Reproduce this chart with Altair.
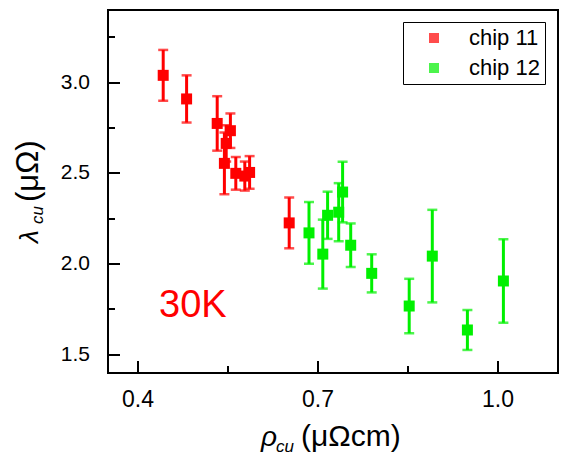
import altair as alt
import pandas as pd

# chip 11 (red)
chip11_x = [0.442, 0.481, 0.532, 0.554, 0.547, 0.544, 0.563, 0.578, 0.586, 0.652]
chip11_y = [3.04, 2.91, 2.775, 2.735, 2.665, 2.555, 2.50, 2.485, 2.505, 2.227]
chip11_err = [0.14, 0.13, 0.15, 0.095, 0.10, 0.17, 0.09, 0.08, 0.09, 0.14]

# chip 12 (green)
chip12_x = [0.685, 0.708, 0.716, 0.7345, 0.741, 0.7545, 0.7895, 0.852, 0.8905, 0.949, 1.009]
chip12_y = [2.172, 2.055, 2.269, 2.286, 2.397, 2.104, 1.949, 1.769, 2.044, 1.637, 1.907]
chip12_err = [0.17, 0.19, 0.13, 0.16, 0.167, 0.12, 0.105, 0.15, 0.255, 0.11, 0.23]

series_names = ["chip 11", "chip 12"]
series_colors = ["#ff0000", "#00f000"]

x_major = [0.4, 0.7, 1.0]
x_minor = [0.55, 0.85]
y_major = [1.5, 2.0, 2.5, 3.0]
y_minor = [1.75, 2.25, 2.75, 3.25]

rows = []
for name, xs_, ys_, es_ in [("chip 11", chip11_x, chip11_y, chip11_err),
                            ("chip 12", chip12_x, chip12_y, chip12_err)]:
    for x, y, e in zip(xs_, ys_, es_):
        rows.append({"series": name, "x": x, "y": y, "lo": y - e, "hi": y + e})
df = pd.DataFrame(rows)

FONT = "Liberation Sans"
W, H = 450, 363
xs = alt.Scale(domain=[0.35, 1.1], nice=False, zero=False)
ys = alt.Scale(domain=[1.4, 3.4], nice=False, zero=False)
cs = alt.Scale(domain=series_names, range=series_colors)

def xaxis(values, size, labels):
    return alt.Axis(values=values, format=".1f", tickSize=size, offset=-size, labels=labels,
                    labelPadding=16, domain=False, grid=False, title=None, orient="bottom",
                    labelFontSize=23, labelFont=FONT, labelColor="black",
                    tickWidth=2, tickColor="black", translate=0)

def yaxis(values, size, labels):
    return alt.Axis(values=values, format=".1f", tickSize=size, offset=-size, labels=labels,
                    labelPadding=18, domain=False, grid=False, title=None, orient="left",
                    labelFontSize=21, labelFont=FONT, labelColor="black",
                    tickWidth=2, tickColor="black", translate=0)

base = alt.Chart(df)

frame = alt.Chart(pd.DataFrame({"f": [0]})).mark_rect(
    fillOpacity=0, stroke="black", strokeWidth=2
).encode(x=alt.value(0), x2=alt.value(W), y=alt.value(0), y2=alt.value(H))

minor_axes = base.mark_point(opacity=0).encode(
    x=alt.X("x:Q", scale=xs, axis=xaxis(x_minor, 7, False)),
    y=alt.Y("y:Q", scale=ys, axis=yaxis(y_minor, 7, False)),
)

color_enc = alt.Color("series:N", scale=cs)

bars = base.mark_rule(strokeWidth=3).encode(
    x=alt.X("x:Q", scale=xs, axis=xaxis(x_major, 12, True)),
    y=alt.Y("lo:Q", scale=ys, axis=yaxis(y_major, 12, True)),
    y2="hi:Q",
    color=color_enc,
)

cap_lo = base.mark_tick(orient="horizontal", size=10, thickness=2.5).encode(
    x=alt.X("x:Q", scale=xs, axis=None),
    y=alt.Y("lo:Q", scale=ys, axis=None),
    color=color_enc,
)
cap_hi = base.mark_tick(orient="horizontal", size=10, thickness=2.5).encode(
    x=alt.X("x:Q", scale=xs, axis=None),
    y=alt.Y("hi:Q", scale=ys, axis=None),
    color=color_enc,
)

pts = base.mark_square(size=121, opacity=1).encode(
    x=alt.X("x:Q", scale=xs, axis=None),
    y=alt.Y("y:Q", scale=ys, axis=None),
    color=alt.Color("series:N", scale=cs, legend=alt.Legend(
        title=None, orient="none", legendX=295, legendY=12,
        strokeColor="black", fillColor="white", padding=5,
        symbolType="square", symbolSize=100, symbolStrokeWidth=0, symbolOpacity=1,
        labelFontSize=22, labelFont=FONT, labelColor="black",
        rowPadding=8, symbolOffset=15, labelOffset=24)),
)

ann = alt.Chart(pd.DataFrame({"x": [0.435], "y": [1.71], "t": ["30K"]})).mark_text(
    align="left", baseline="alphabetic", fontSize=38, font=FONT, color="#ff0000"
).encode(x=alt.X("x:Q", scale=xs, axis=None), y=alt.Y("y:Q", scale=ys, axis=None), text="t:N")

def label(text, x, y, size, italic=False, angle=0):
    kw = dict(align="left", baseline="alphabetic", fontSize=size, font=FONT, color="black")
    if italic:
        kw["fontStyle"] = "italic"
    if angle:
        kw["angle"] = angle
    return alt.Chart(pd.DataFrame({"t": [text]})).mark_text(**kw).encode(
        x=alt.value(x), y=alt.value(y), text="t:N")

titles = [
    label("ρ", 153, 436, 28, italic=True),
    label("cu", 168, 442, 17, italic=True),
    label("(μΩcm)", 193, 436, 30),
    label("λ", -70, 233, 26, italic=True, angle=270),
    label("cu", -65, 214, 17, italic=True, angle=270),
    label("(μΩ)", -70, 192, 31, angle=270),
]

chart = alt.layer(minor_axes, bars, cap_lo, cap_hi, pts, frame, ann, *titles).resolve_axis(
    x="independent", y="independent"
).properties(
    width=W, height=H,
    autosize=alt.AutoSizeParams(type="none"),
    padding={"left": 108, "top": 10, "right": 6, "bottom": 82},
    background="white",
).configure_view(strokeWidth=0)

chart.save("out.html", embed_options={"renderer": "svg", "actions": False})
